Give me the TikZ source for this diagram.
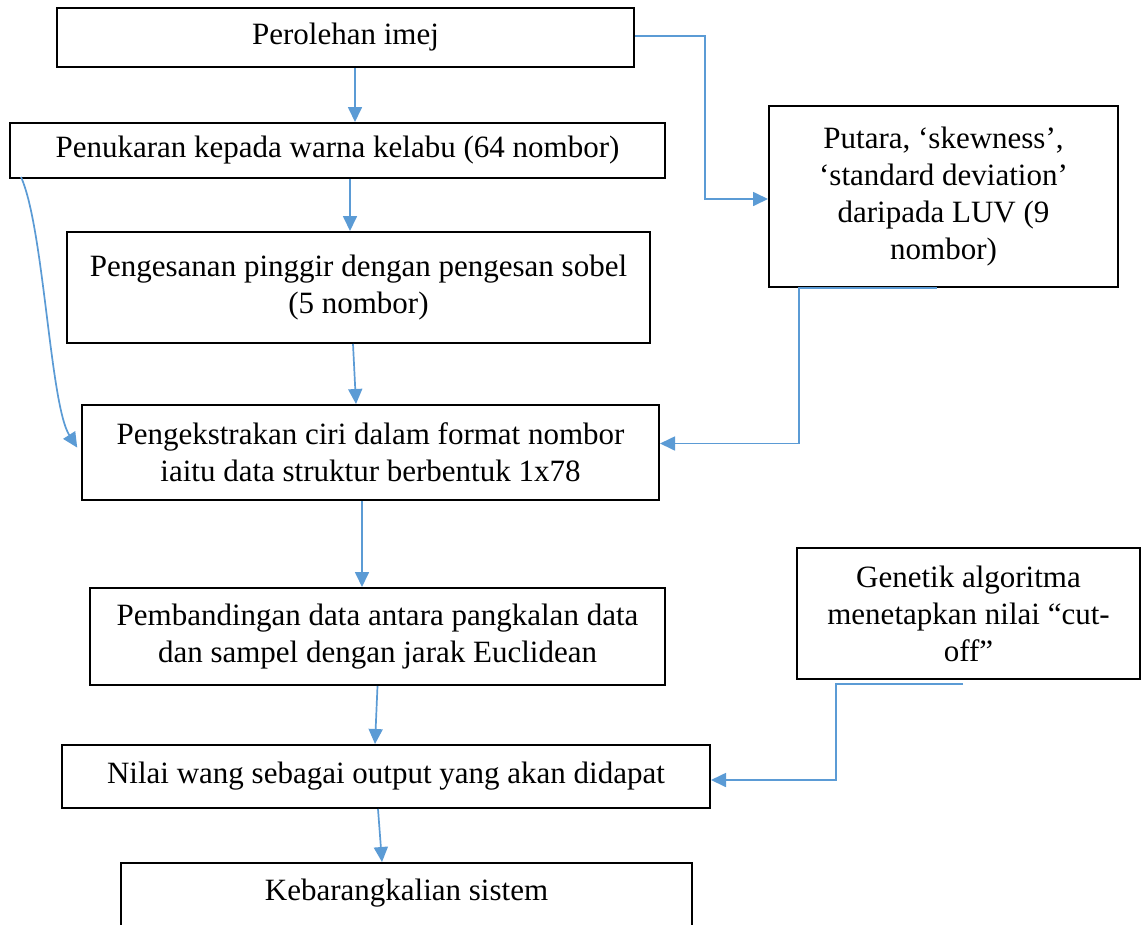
\documentclass[tikz,border=0pt]{standalone}
\usepackage{fontspec}
\setmainfont{Liberation Serif}
\usetikzlibrary{arrows.meta}
\definecolor{flowblue}{RGB}{91,155,213}
\tikzset{
  box/.style={draw=black, line width=2pt, inner sep=0pt, align=center,
    font=\fontsize{31}{37}\selectfont},
  txt/.style={inner sep=0pt, align=center, font=\fontsize{31}{37}\selectfont},
  arr/.style={draw=flowblue, line width=1.7pt, -{Triangle[length=15pt,width=14pt]}},
  ln/.style={draw=flowblue, line width=1.7pt}
}
\begin{document}
\begin{tikzpicture}[x=1pt,y=-1pt]
\useasboundingbox (0,0) rectangle (1142,924);
\clip (0,0) rectangle (1142,924);
\fill[white] (0,0) rectangle (1142,924);

\node[box, minimum width=577pt, minimum height=59pt] (b1) at (345.5,37.5) {Perolehan imej};
\node[box, minimum width=655pt, minimum height=55pt] (b2) at (337.5,150.5) {Penukaran kepada warna kelabu (64 nombor)};
\node[box, minimum width=583pt, minimum height=111pt] (b3) at (358.5,287.5) {Pengesanan pinggir dengan pengesan sobel\\(5 nombor)};
\node[box, minimum width=577pt, minimum height=95pt] (b4) at (370.5,452.5) {Pengekstrakan ciri dalam format nombor\\iaitu data struktur berbentuk 1x78};
\node[box, minimum width=575pt, minimum height=97pt] (b5) at (377.5,636.5) {Pembandingan data antara pangkalan data\\dan sampel dengan jarak Euclidean};
\node[box, minimum width=648pt, minimum height=63pt] (b6) at (386,776.5) {Nilai wang sebagai output yang akan didapat};
\node[box, minimum width=571pt, minimum height=97pt] (b7) at (406.5,911.5) {};
\node[txt] (t7) at (406.5,893) {Kebarangkalian sistem};
\node[box, minimum width=349pt, minimum height=181pt] (p) at (943.5,196.5) {Putara, ‘skewness’,\\‘standard deviation’\\daripada LUV (9\\nombor)};
\node[box, minimum width=343pt, minimum height=131pt] (g) at (968.5,613.5) {Genetik algoritma\\menetapkan nilai “cut-\\off”};

% vertical flow
\draw[arr] ([xshift=9.5pt]b1.south) -- ([xshift=17.5pt]b2.north);
\draw[arr] ([xshift=12.5pt]b2.south) -- ([xshift=-8.5pt]b3.north);
\draw[arr] ([xshift=-5.5pt]b3.south) -- ([xshift=-14.5pt]b4.north);
\draw[arr] ([xshift=-8.5pt]b4.south) -- ([xshift=-15.5pt]b5.north);
\draw[arr] (b5.south) -- ([xshift=-11pt]b6.north);
\draw[arr] ([xshift=-8pt]b6.south) -- ([xshift=-24.5pt]b7.north);

% side connectors
\draw[arr] ([yshift=1.5pt]b1.east) -- ++(70pt,0) |- ([yshift=-2.5pt]p.west);
\draw[arr] ([xshift=-6.5pt]p.south) -- ([xshift=-144.5pt]p.south) |- ([yshift=9pt]b4.east);
\draw[arr] ([xshift=-5.5pt,yshift=-4pt]g.south) -- ([xshift=-132.5pt,yshift=-4pt]g.south) |- ([yshift=-3.5pt]b6.east);

% curved connector
\draw[arr, shorten >=7pt] ([xshift=12pt,yshift=2pt]b2.south west) .. controls (44,228) and (50,405) .. ([yshift=-1pt]b4.west);
\end{tikzpicture}
\end{document}
